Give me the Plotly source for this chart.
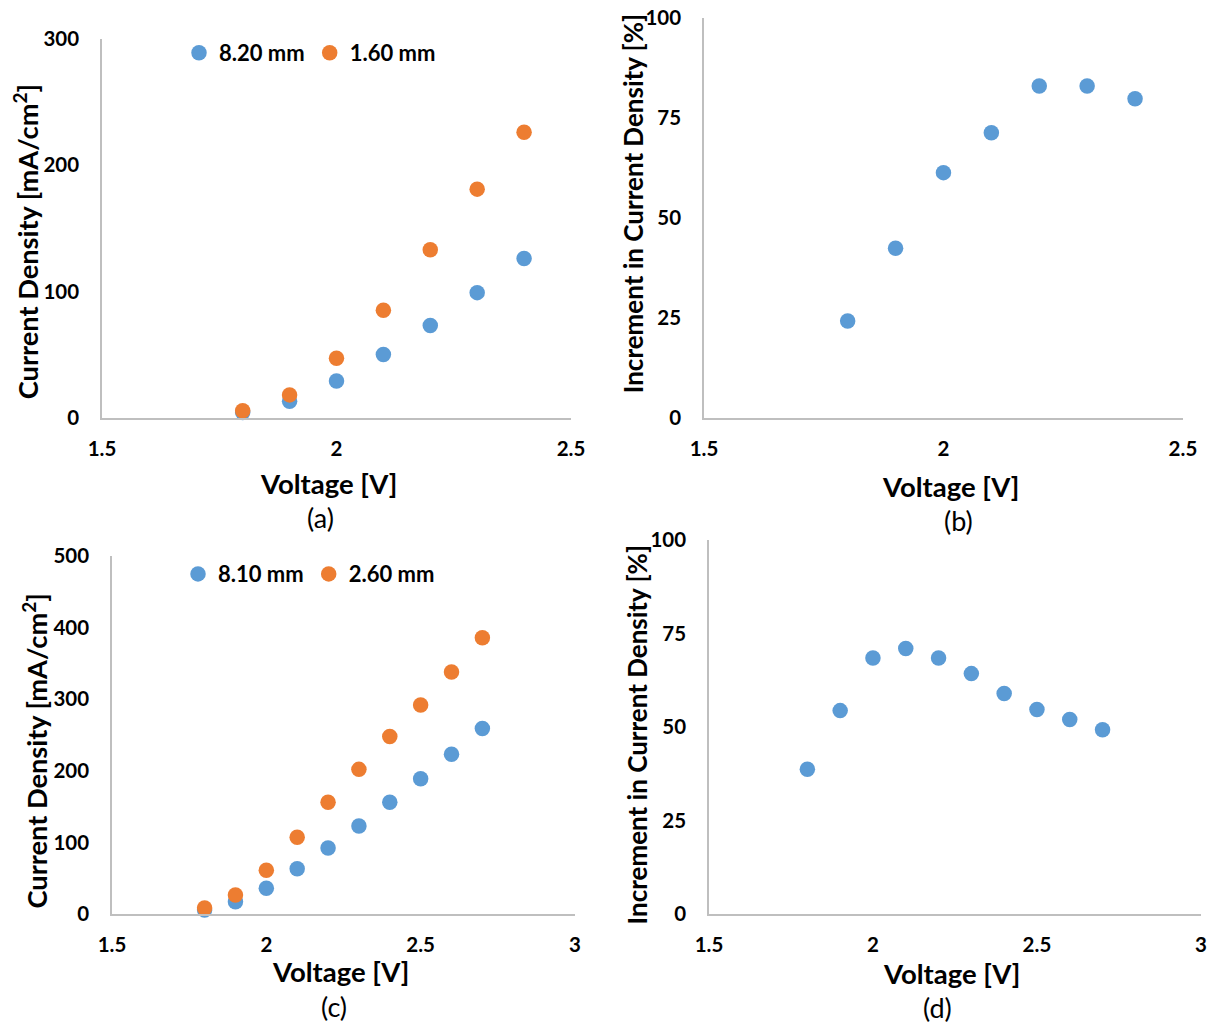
import plotly.graph_objects as go

# ---------------- data ----------------
voltage_ab = [1.8, 1.9, 2.0, 2.1, 2.2, 2.3, 2.4]
cd_a_820 = [4, 13, 29, 50, 73, 99, 126]
cd_a_160 = [5.5, 18, 47, 85, 133, 181, 226]
inc_b = [24.2, 42.4, 61.3, 71.3, 83, 83, 79.8]

voltage_cd = [1.8, 1.9, 2.0, 2.1, 2.2, 2.3, 2.4, 2.5, 2.6, 2.7]
cd_c_810 = [5.6, 17, 36, 63, 92, 123, 156, 189, 223, 259]
cd_c_260 = [8.4, 26.5, 61, 107, 156, 202, 248, 292, 338, 386]
inc_d = [38.7, 54.4, 68.5, 71, 68.5, 64.3, 59, 54.7, 52, 49.3]

names_a = ["8.20 mm", "1.60 mm"]
names_c = ["8.10 mm", "2.60 mm"]

xticks_ab = [1.5, 2, 2.5]
xticks_cd = [1.5, 2, 2.5, 3]
yticks_a = [0, 100, 200, 300]
yticks_c = [0, 100, 200, 300, 400, 500]
yticks_pct = [0, 25, 50, 75, 100]

BLUE = "#5B9BD5"
ORANGE = "#ED7D31"
FONT = "Lato"
W, H = 1215, 1028

# layout helpers: target picture pixel -> paper pixel (compensates the
# observed framing of the captured page)
OX, KX, OY, KY = 13.0, 0.977, 12.0, 0.98

def sx(s):
    return (s - OX) / KX

def sy(s):
    return (s - OY) / KY

def px_x(s):
    return sx(s) / W

def px_y(s):
    return 1 - sy(s) / H

fig = go.Figure()

def mk(color):
    return dict(color=color, size=15.5)

fig.add_trace(go.Scatter(x=voltage_ab, y=cd_a_820, mode="markers", name=names_a[0],
                         marker=mk(BLUE), xaxis="x", yaxis="y", legend="legend", cliponaxis=False))
fig.add_trace(go.Scatter(x=voltage_ab, y=cd_a_160, mode="markers", name=names_a[1],
                         marker=mk(ORANGE), xaxis="x", yaxis="y", legend="legend", cliponaxis=False))
fig.add_trace(go.Scatter(x=voltage_ab, y=inc_b, mode="markers", showlegend=False,
                         marker=mk(BLUE), xaxis="x2", yaxis="y2", cliponaxis=False))
fig.add_trace(go.Scatter(x=voltage_cd, y=cd_c_810, mode="markers", name=names_c[0],
                         marker=mk(BLUE), xaxis="x3", yaxis="y3", legend="legend2", cliponaxis=False))
fig.add_trace(go.Scatter(x=voltage_cd, y=cd_c_260, mode="markers", name=names_c[1],
                         marker=mk(ORANGE), xaxis="x3", yaxis="y3", legend="legend2", cliponaxis=False))
fig.add_trace(go.Scatter(x=voltage_cd, y=inc_d, mode="markers", showlegend=False,
                         marker=mk(BLUE), xaxis="x4", yaxis="y4", cliponaxis=False))

tickfont = dict(family=FONT, size=20.5, color="black", weight="bold")
axline = dict(showline=True, linecolor="#BFBFBF", linewidth=1.6, showgrid=False,
              zeroline=False, ticks="", tickfont=tickfont, fixedrange=True)

def xaxis(dom, rng, tv, anchor):
    d = dict(axline)
    d.update(domain=[px_x(dom[0]), px_x(dom[1])], range=rng, tickvals=tv,
             anchor=anchor, ticklabelstandoff=12)
    return d

def yaxis(dom, rng, tv, anchor):
    d = dict(axline)
    d.update(domain=[px_y(dom[1]), px_y(dom[0])], range=rng, tickvals=tv,
             anchor=anchor, ticklabelstandoff=17)
    return d

fig.update_layout(
    xaxis=xaxis((101, 570), [1.5, 2.5], xticks_ab, "y"),
    yaxis=yaxis((38, 418), [0, 300], yticks_a, "x"),
    xaxis2=xaxis((703, 1182), [1.5, 2.5], xticks_ab, "y2"),
    yaxis2=yaxis((17, 418), [0, 100], yticks_pct, "x2"),
    xaxis3=xaxis((111, 574), [1.5, 3], xticks_cd, "y3"),
    yaxis3=yaxis((557, 916), [0, 500], yticks_c, "x3"),
    xaxis4=xaxis((708, 1200), [1.5, 3], xticks_cd, "y4"),
    yaxis4=yaxis((541, 916), [0, 100], yticks_pct, "x4"),
)

legfont = dict(family=FONT, size=22, color="black", weight="bold")
fig.update_layout(
    legend=dict(orientation="h", x=px_x(178), y=px_y(52), xanchor="left", yanchor="middle",
                font=legfont, bgcolor="rgba(0,0,0,0)", itemwidth=30),
    legend2=dict(orientation="h", x=px_x(177), y=px_y(575), xanchor="left", yanchor="middle",
                 font=legfont, bgcolor="rgba(0,0,0,0)", itemwidth=30),
)

title_cd = dict(family=FONT, size=27.2, color="black", weight="bold")
title_inc = dict(family=FONT, size=26, color="black", weight="bold")
title_v = dict(family=FONT, size=27.5, color="black", weight="bold")
capfont = dict(family=FONT, size=27, color="black")

anns = []
def ann(text, x, y, font, angle=0):
    anns.append(dict(text=text, x=px_x(x), y=px_y(y), xref="paper", yref="paper",
                     showarrow=False, font=font, textangle=angle,
                     xanchor="center", yanchor="middle"))

ann("Current Density [mA/cm<sup>2</sup>]", 25, 241, title_cd, -90)
ann("Increment in Current Density [%]", 632, 203, title_inc, -90)
ann("Current Density [mA/cm<sup>2</sup>]", 34, 752, title_cd, -90)
ann("Increment in Current Density [%]", 636, 736, title_inc, -90)
ann("Voltage [V]", 328, 484, title_v)
ann("Voltage [V]", 950, 487, title_v)
ann("Voltage [V]", 340, 974, title_v)
ann("Voltage [V]", 951, 976, title_v)
ann("(a)", 320, 518, capfont)
ann("(b)", 958, 521, capfont)
ann("(c)", 333, 1009, capfont)
ann("(d)", 937, 1010, capfont)

fig.update_layout(annotations=anns, width=W, height=H,
                  margin=dict(l=0, r=0, t=0, b=0),
                  paper_bgcolor="white", plot_bgcolor="white",
                  font=dict(family=FONT), hovermode=False)

fig.write_html("out.html", config={"displayModeBar": False},
               post_script="document.body.style.margin='0';document.body.style.overflow='hidden';")
